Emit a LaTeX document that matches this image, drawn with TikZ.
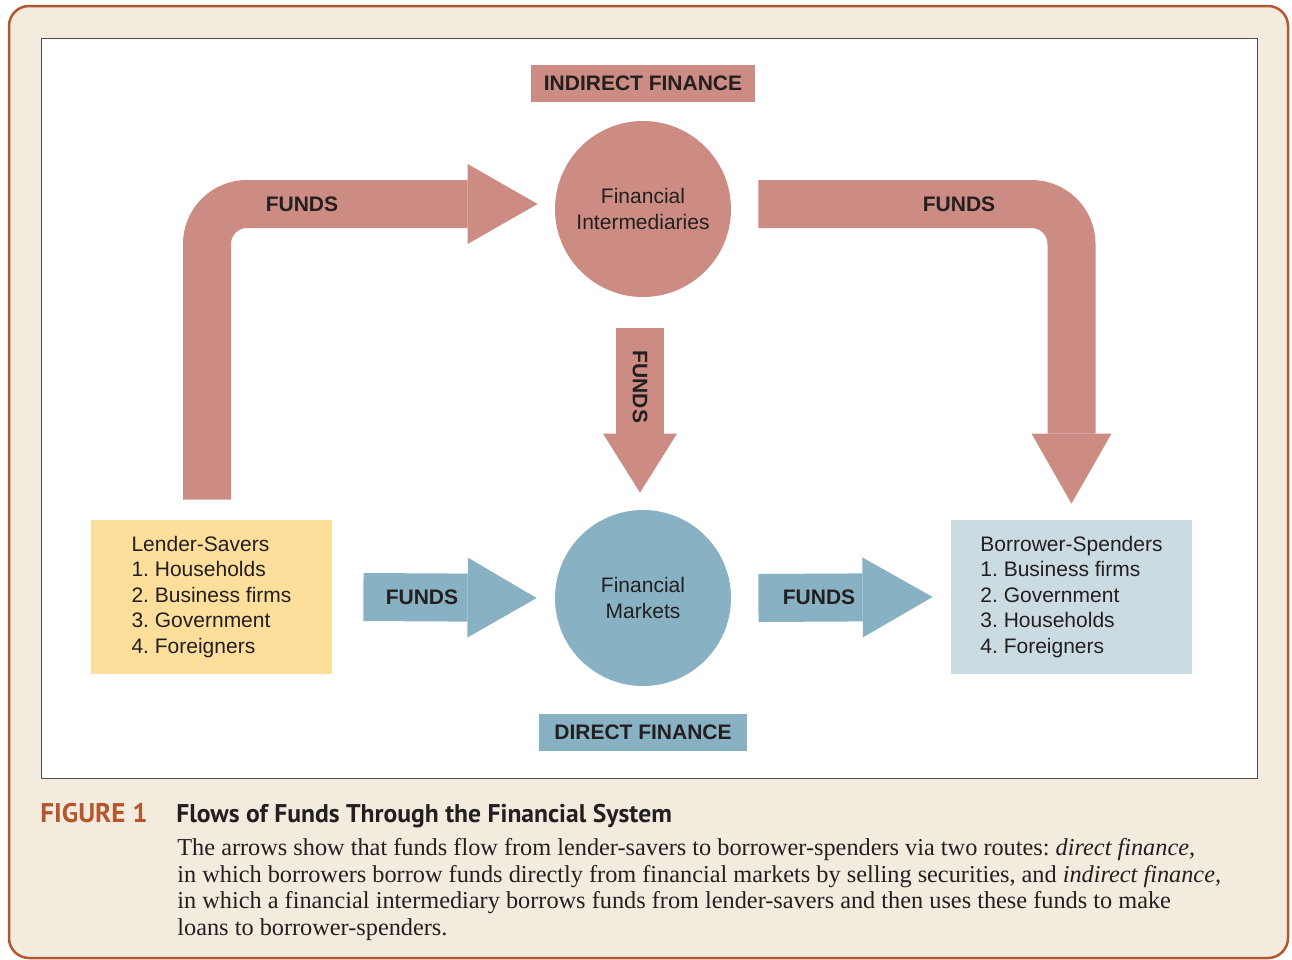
\documentclass[tikz,border=0pt]{standalone}
\usepackage[dvipsnames]{xcolor}
\usepackage{fontspec}
\setmainfont{Liberation Serif}
\setsansfont{Liberation Sans}
\newfontfamily\capfont{PT Sans}
\usetikzlibrary{positioning,arrows.meta}
\definecolor{rosefill}{HTML}{CD8C83}
\definecolor{bluefill}{HTML}{88B2C3}
\definecolor{lenderfill}{HTML}{FDDE9B}
\definecolor{borrowfill}{HTML}{CADBE1}
\definecolor{paper}{HTML}{F3EBDD}
\definecolor{rust}{HTML}{B4562F}
\definecolor{ink}{HTML}{231F20}
\frenchspacing

\begin{document}
\begin{tikzpicture}[x=1pt,y=-1pt,thick,main node/.style={circle,minimum size=176pt,inner sep=0pt,align=center,text=ink,font=\sffamily\fontsize{21}{25.5}\selectfont},group node/.style={rectangle,minimum width=241pt,minimum height=154pt,align=left,text=ink,font=\sffamily\fontsize{21}{25.5}\selectfont},tag node/.style={rectangle,minimum height=37pt,inner xsep=13pt,text=ink,font=\sffamily\bfseries\fontsize{21}{25}\selectfont},funds/.style={text=ink,font=\sffamily\bfseries\fontsize{21}{25}\selectfont},rose arrow/.style={draw=rosefill,line width=48pt,rounded corners=40pt},blue arrow/.style={draw=bluefill,line width=48pt}]
                \useasboundingbox (0,0) rectangle (1292,959);
                \filldraw[fill=paper,draw=rust,line width=2.5pt,rounded corners=20pt] (9,6) rectangle (1288,958);
                \filldraw[fill=white,draw=black!70,line width=1pt] (41,38) rectangle (1257,778);

                \node[main node,fill=rosefill] (fi) at (643,209) {Financial\\Intermediaries};
                \node[main node,fill=bluefill] (fm) at (643,598) {Financial\\Markets};
                \node[group node,fill=lenderfill] (ls) at (211.5,597) {Lender-Savers\\1. Households\\2. Business firms\\3. Government\\4. Foreigners};
                \node[group node,fill=borrowfill] (bs) at (1071.5,597) {Borrower-Spenders\\1. Business firms\\2. Government\\3. Households\\4. Foreigners};
                \node[tag node,fill=rosefill] (ind) [above=18pt of fi] {INDIRECT FINANCE};
                \node[tag node,fill=bluefill,inner xsep=15pt] (dir) [below=27pt of fm] {DIRECT FINANCE};

                \path[rose arrow,-{Triangle[width=80pt,length=70pt,line width=0pt]}]
                    ([shift={(-4.5pt,20pt)}]ls.north) |- ([shift={(-17pt,5pt)}]fi.west);
                \path[rose arrow,-{Triangle[width=80pt,length=70pt,line width=0pt]}]
                    ([shift={(27pt,5pt)}]fi.east) -| ([yshift=16pt]bs.north);
                \path[rose arrow,-{Triangle[width=74pt,length=59pt,line width=0pt]}]
                    ([shift={(-3pt,-31pt)}]fi.south) -- ([shift={(-3pt,17pt)}]fm.north);
                \path[blue arrow,-{Triangle[width=80pt,length=69pt,line width=0pt]}]
                    ([xshift=31pt]ls.east) -- ([xshift=-18pt]fm.west);
                \path[blue arrow,-{Triangle[width=80pt,length=70pt,line width=0pt]}]
                    ([xshift=27pt]fm.east) -- ([xshift=-18pt]bs.west);

                \node[funds] (f1) at (302,204) {FUNDS};
                \node[funds] (f2) at (959,204) {FUNDS};
                \node[funds,rotate=-90] (f3) at (640,387) {FUNDS};
                \node[funds] (f4) at (422,597) {FUNDS};
                \node[funds] (f5) at (819,597) {FUNDS};

                \node[anchor=base west,inner sep=0pt,text=rust,font=\capfont\bfseries\fontsize{27}{30}\selectfont] (fig) at (40,822) {FIGURE 1};
                \node[anchor=base west,inner sep=0pt,text=ink,font=\capfont\bfseries\fontsize{25.6}{30}\selectfont] (title) at (176,822) {Flows of Funds Through the Financial System};
                \node[anchor=north west,inner sep=0pt,align=left,text=ink,font=\fontsize{24.3}{26.5}\selectfont] (body) at (177,838) {The arrows show that funds flow from lender-savers to borrower-spenders via two routes: \textit{direct finance,}\\in which borrowers borrow funds directly from financial markets by selling securities, and \textit{indirect finance,}\\in which a financial intermediary borrows funds from lender-savers and then uses these funds to make\\loans to borrower-spenders.};
            \end{tikzpicture}
\end{document}
